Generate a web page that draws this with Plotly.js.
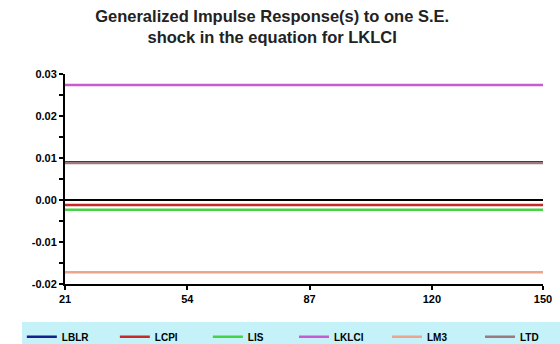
<!DOCTYPE html>
<html>
<head>
<meta charset="utf-8">
<script src="https://cdn.plot.ly/plotly-3.0.1.min.js"></script>
<style>html,body{margin:0;padding:0;background:#fff;}#chart{width:560px;height:344px;}</style>
</head>
<body>
<div id="chart"></div>
<script>
var periods = [21, 54, 87, 120, 150];
var seriesNames = ["LBLR", "LCPI", "LIS", "LKLCI", "LM3", "LTD"];
var LBLR = [0.0090, 0.0090, 0.0090, 0.0090, 0.0090];
var LCPI = [-0.0012, -0.0012, -0.0012, -0.0012, -0.0012];
var LIS = [-0.0023, -0.0023, -0.0023, -0.0023, -0.0023];
var LKLCI = [0.0274, 0.0274, 0.0274, 0.0274, 0.0274];
var LM3 = [-0.0172, -0.0172, -0.0172, -0.0172, -0.0172];
var LTD = [0.0088, 0.0088, 0.0088, 0.0088, 0.0088];
var seriesValues = [LBLR, LCPI, LIS, LKLCI, LM3, LTD];
var seriesColors = ["#14208c", "#c82828", "#46d246", "#c85ad2", "#eca48a", "#9a7a7e"];
var xTickVals = [21, 54, 87, 120, 150];
var xTickLabels = ["21", "54", "87", "120", "150"];
var yTickVals = [-0.02, -0.01, 0, 0.01, 0.02, 0.03];
var yTickLabels = ["-0.02", "-0.01", "0.00", "0.01", "0.02", "0.03"];

var traces = seriesNames.map(function (n, i) {
  return {
    x: periods, y: seriesValues[i], name: n, type: "scatter", mode: "lines",
    line: {color: seriesColors[i], width: 2.5},
    legend: i < 3 ? "legend" : "legend2"
  };
});

var tickFont = {family: "Liberation Sans, Arial", size: 11, color: "#000", weight: "bold"};
var legendFont = {family: "Liberation Sans, Arial", size: 10, color: "#000", weight: "bold"};
function legendAt(x) {
  return {
    orientation: "h", xref: "container", yref: "container",
    x: x, xanchor: "left", y: 0.063, yanchor: "top",
    bgcolor: "#c4f2f8", entrywidth: 48, entrywidthmode: "pixels",
    font: legendFont, tracegroupgap: 0
  };
}
var layout = {
  width: 560, height: 344,
  margin: {l: 65, r: 17, t: 74, b: 60},
  paper_bgcolor: "#fff", plot_bgcolor: "#fff",
  title: {
    text: "Generalized Impulse Response(s) to one S.E.<br>shock in the equation for LKLCI",
    font: {family: "Liberation Sans, Arial", size: 16.5, color: "#222", weight: "bold"},
    x: 0.486, xanchor: "center", y: 0.937, yanchor: "top"
  },
  xaxis: {
    range: [21, 150], tickvals: xTickVals, ticktext: xTickLabels,
    showgrid: false, zeroline: false, showline: true, linecolor: "#000", linewidth: 2,
    ticks: "outside", ticklen: 4, tickwidth: 2, tickcolor: "#000", tickfont: tickFont
  },
  yaxis: {
    range: [-0.02, 0.03], tickvals: yTickVals, ticktext: yTickLabels,
    showgrid: false, zeroline: true, zerolinecolor: "#000", zerolinewidth: 2,
    showline: true, linecolor: "#000", linewidth: 2,
    ticks: "outside", ticklen: 4, tickwidth: 2, tickcolor: "#000", tickfont: tickFont,
    minor: {dtick: 0.005, tick0: 0, ticks: "outside", ticklen: 4, tickwidth: 2, tickcolor: "#000", showgrid: false}
  },
  showlegend: true,
  legend: legendAt(0.039),
  legend2: legendAt(0.525)
};
Plotly.newPlot("chart", traces, layout, {staticPlot: true, displayModeBar: false});
</script>
</body>
</html>
